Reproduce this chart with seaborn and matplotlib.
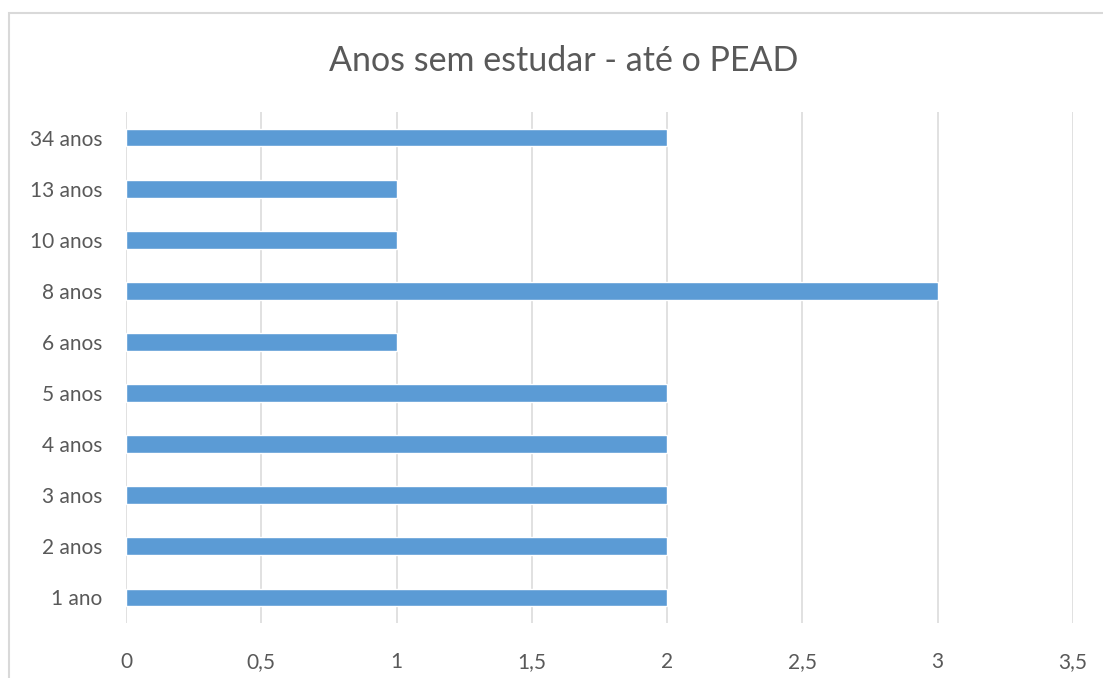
import matplotlib
matplotlib.use("Agg")
import matplotlib.pyplot as plt
import seaborn as sns
import pandas as pd
from matplotlib.patches import Rectangle
from matplotlib.ticker import FuncFormatter

# Data (top to bottom as shown)
categories = ["34 anos", "13 anos", "10 anos", "8 anos", "6 anos",
              "5 anos", "4 anos", "3 anos", "2 anos", "1 ano"]
values = [2, 1, 1, 3, 1, 2, 2, 2, 2, 2]
x_ticks = [0, 0.5, 1, 1.5, 2, 2.5, 3, 3.5]
title = "Anos sem estudar - até o PEAD"

df = pd.DataFrame({"cat": categories, "val": values})

sns.set_style("white")
plt.rcParams['font.family'] = ['Lato', 'DejaVu Sans']

fig = plt.figure(figsize=(11.03, 6.78), dpi=100)
ax = fig.add_axes([126 / 1103, 1 - 623 / 678, 947 / 1103, 511 / 678])

sns.barplot(data=df, x="val", y="cat", order=categories, color="#5B9BD5",
            width=0.35, saturation=1, ax=ax)

ax.set_xlim(0, 3.5)
ax.set_xticks(x_ticks)
ax.xaxis.set_major_formatter(FuncFormatter(lambda v, p: f"{v:g}".replace(".", ",")))
ax.grid(axis="x", color="#D9D9D9", linewidth=1.1)
ax.set_axisbelow(True)
for s in ax.spines.values():
    s.set_visible(False)
ax.set_xlabel("")
ax.set_ylabel("")
ax.tick_params(axis="both", length=0, labelsize=15, colors="#595959")
ax.tick_params(axis="x", pad=21)
ax.tick_params(axis="y", pad=17)

fig.text(564 / 1103, 1 - 61 / 678, title, ha="center", va="center",
         fontsize=24.5, color="#595959", fontweight="normal")

# chart frame
fig.patches.append(Rectangle((9 / 1103, -0.1), 1.2, 1 - 13 / 678 + 0.1,
                             transform=fig.transFigure, fill=False,
                             edgecolor="#D9D9D9", linewidth=1.5))

fig.savefig("out.png", dpi=100)
